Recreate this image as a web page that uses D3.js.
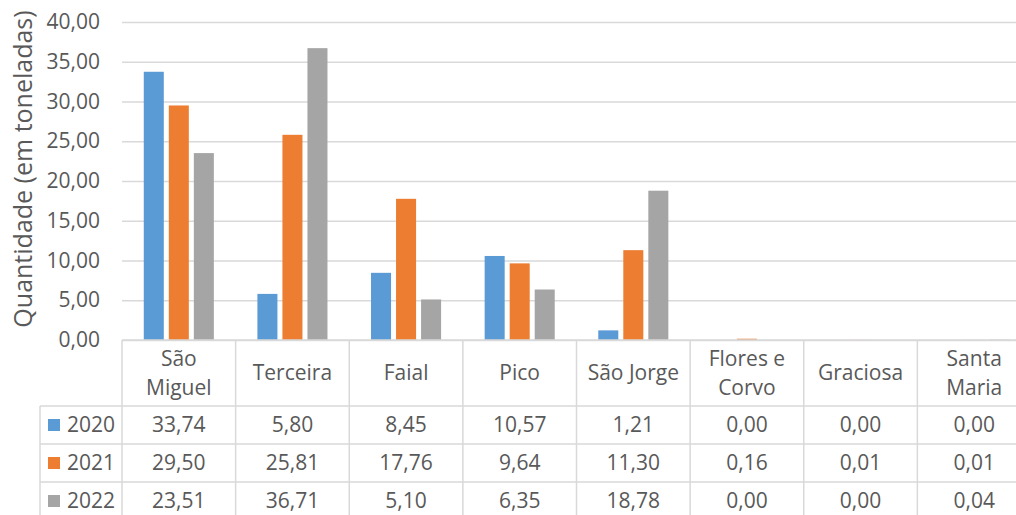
<!DOCTYPE html>
<html>
<head>
<meta charset="utf-8">
<script src="https://cdn.jsdelivr.net/npm/d3@7"></script>
<style>
  body { margin: 0; background: #fff; }
  svg { font-family: "Open Sans", sans-serif; }
</style>
</head>
<body>
<script>
const categories = ['São Miguel', 'Terceira', 'Faial', 'Pico', 'São Jorge', 'Flores e Corvo', 'Graciosa', 'Santa Maria']
const categoryLines = [['São', 'Miguel'], ['Terceira'], ['Faial'], ['Pico'], ['São Jorge'], ['Flores e', 'Corvo'], ['Graciosa'], ['Santa', 'Maria']]
const years = ['2020', '2021', '2022']
const values2020 = [33.74, 5.80, 8.45, 10.57, 1.21, 0.00, 0.00, 0.00]
const values2021 = [29.50, 25.81, 17.76, 9.64, 11.30, 0.16, 0.01, 0.01]
const values2022 = [23.51, 36.71, 5.10, 6.35, 18.78, 0.00, 0.00, 0.04]
const yTicks = [0, 5, 10, 15, 20, 25, 30, 35, 40]
const colors = ['#5B9BD5', '#ED7D31', '#A5A5A5']

const series = [values2020, values2021, values2022]

const w = 1016
const h = 515
const plotLeft = 122
const plotRight = 1031
const plotTop = 22
const base = 340
const headerH = 66
const rowH = 38
const textColor = '#595959'
const lineColor = '#D9D9D9'
const fontSize = 21

const fmt = d3.formatLocale({ decimal: ',', thousands: '.', grouping: [3], currency: ['', ' €'] }).format('.2f')

const svg = d3.select('body')
    .append('svg')
    .attr('width', w)
    .attr('height', h)

const xScale = d3.scaleBand()
    .domain(categories)
    .range([plotLeft, plotRight])

const xInner = d3.scaleBand()
    .domain(years)
    .range([0, xScale.bandwidth()])
    .paddingInner(0.2)
    .paddingOuter(0.87)

const yScale = d3.scaleLinear()
    .domain([0, 40])
    .range([base, plotTop])

// gridlines + tick labels
const yAxis = d3.axisLeft(yScale)
    .tickValues(yTicks)
    .tickFormat(fmt)
    .tickSize(-(w - plotLeft))
    .tickPadding(22)

const yg = svg.append('g')
    .attr('transform', `translate(${plotLeft},0)`)
    .call(yAxis)
yg.select('.domain').remove()
yg.selectAll('.tick line').attr('stroke', lineColor).attr('stroke-width', 1.3)
yg.selectAll('.tick text')
    .attr('fill', textColor)
    .attr('font-size', fontSize)
    .attr('font-family', '"Open Sans", sans-serif')

svg.append('text')
    .attr('transform', `translate(32,169) rotate(-90)`)
    .attr('text-anchor', 'middle')
    .attr('fill', textColor)
    .attr('font-size', 25)
    .text('Quantidade (em toneladas)')

// bars
years.forEach((year, i) => {
    svg.append('g')
        .selectAll('rect')
        .data(series[i])
        .enter()
        .append('rect')
        .attr('x', (d, j) => xScale(categories[j]) + xInner(year))
        .attr('y', d => yScale(d))
        .attr('width', xInner.bandwidth())
        .attr('height', d => base - yScale(d))
        .attr('fill', colors[i])
})

// data table
const table = svg.append('g')
    .attr('stroke', lineColor)
    .attr('stroke-width', 1.5)

table.append('line').attr('x1', plotLeft).attr('x2', plotRight).attr('y1', base).attr('y2', base)
years.forEach((year, i) => {
    const y = base + headerH + i * rowH
    table.append('line').attr('x1', 40).attr('x2', plotRight).attr('y1', y).attr('y2', y)
})
table.append('line').attr('x1', 40).attr('x2', 40).attr('y1', base + headerH).attr('y2', h)
categories.forEach(c => {
    table.append('line').attr('x1', xScale(c)).attr('x2', xScale(c)).attr('y1', base).attr('y2', h)
})

// header labels
categories.forEach((c, j) => {
    const lines = categoryLines[j]
    const cx = xScale(c) + xScale.bandwidth() / 2
    const cy = base + headerH / 2
    const t = svg.append('text')
        .attr('text-anchor', 'middle')
        .attr('fill', textColor)
        .attr('font-size', fontSize)
    lines.forEach((line, k) => {
        t.append('tspan')
            .attr('x', cx)
            .attr('y', cy + (k - (lines.length - 1) / 2) * 29)
            .attr('dy', '0.35em')
            .text(line)
    })
})

// rows
years.forEach((year, i) => {
    const cy = base + headerH + i * rowH + rowH / 2
    svg.append('rect')
        .attr('x', 48)
        .attr('y', cy - 6)
        .attr('width', 12)
        .attr('height', 12)
        .attr('fill', colors[i])
    svg.append('text')
        .attr('x', 67)
        .attr('y', cy)
        .attr('dy', '0.35em')
        .attr('fill', textColor)
        .attr('font-size', fontSize)
        .text(year)
    svg.append('g')
        .selectAll('text')
        .data(series[i])
        .enter()
        .append('text')
        .attr('x', (d, j) => xScale(categories[j]) + xScale.bandwidth() / 2)
        .attr('y', cy)
        .attr('dy', '0.35em')
        .attr('text-anchor', 'middle')
        .attr('fill', textColor)
        .attr('font-size', fontSize)
        .text(d => fmt(d))
})
</script>
</body>
</html>
